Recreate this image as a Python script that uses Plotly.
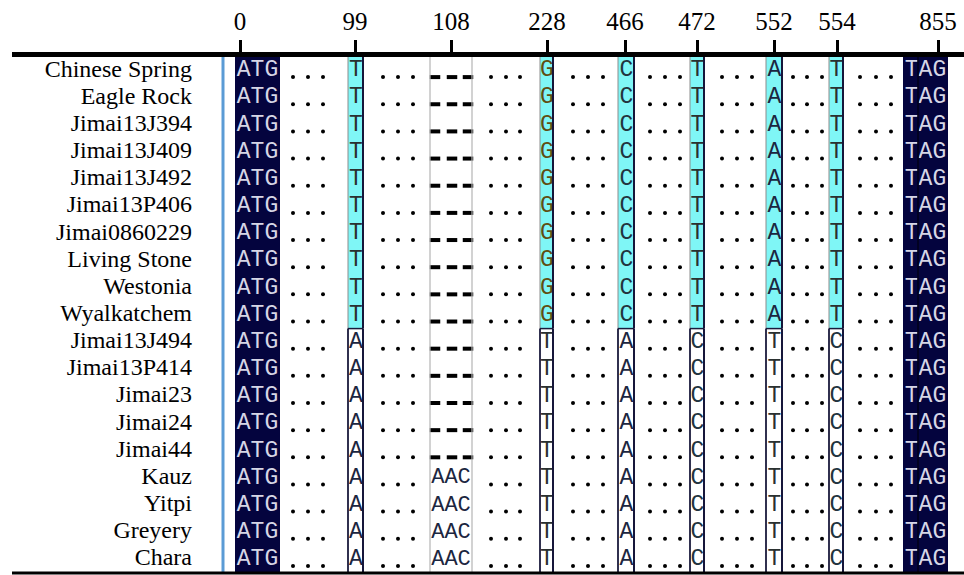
import plotly.graph_objects as go

# ---------------- data ----------------
cultivars = ["Chinese Spring", "Eagle Rock", "Jimai13J394", "Jimai13J409", "Jimai13J492",
             "Jimai13P406", "Jimai0860229", "Living Stone", "Westonia", "Wyalkatchem",
             "Jimai13J494", "Jimai13P414", "Jimai23", "Jimai24", "Jimai44",
             "Kauz", "Yitpi", "Greyery", "Chara"]
positions = [0, 99, 108, 228, 466, 472, 552, 554, 855]

start_codon = ["ATG", "ATG", "ATG", "ATG", "ATG", "ATG", "ATG", "ATG", "ATG", "ATG",
               "ATG", "ATG", "ATG", "ATG", "ATG", "ATG", "ATG", "ATG", "ATG"]
snp_99 = list("TTTTTTTTTTAAAAAAAAA")
indel_108 = ["---", "---", "---", "---", "---", "---", "---", "---", "---", "---",
             "---", "---", "---", "---", "---", "AAC", "AAC", "AAC", "AAC"]
snp_228 = list("GGGGGGGGGGTTTTTTTTT")
snp_466 = list("CCCCCCCCCCAAAAAAAAA")
snp_472 = list("TTTTTTTTTTCCCCCCCCC")
snp_552 = list("AAAAAAAAAATTTTTTTTT")
snp_554 = list("TTTTTTTTTTCCCCCCCCC")
stop_codon = ["TAG", "TAG", "TAG", "TAG", "TAG", "TAG", "TAG", "TAG", "TAG", "TAG",
              "TAG", "TAG", "TAG", "TAG", "TAG", "TAG", "TAG", "TAG", "TAG"]

# ---------------- layout / style constants ----------------
W, H = 964, 575
NAVY = "#04043e"
CYAN = "#7ff6f6"
SERIF = "Liberation Serif, Times New Roman, serif"
MONO = "Liberation Mono, Courier New, monospace"
CELL_FONT = 23

tick_x = [240, 355, 451, 547, 625, 697, 774, 837, 938]
codon_span = {"start": (235, 280), "stop": (903, 948)}
snp_spans = [(348, 363), (540, 553), (618, 634), (690, 704), (766, 782), (829, 843)]
snp_cols = [snp_99, snp_228, snp_466, snp_472, snp_552, snp_554]
indel_span = (430, 472)
dash_x = [435, 452, 468]
dot_groups = [[293, 308, 323], [383, 398, 413], [491, 506, 520], [573, 588, 603],
              [650, 665, 680], [722, 737, 752], [793, 807, 822], [860, 876, 891]]
letter_color = {"A": "#1c2640", "T": "#2a3030", "G": "#5f4d12", "C": "#22343e"}

n = len(cultivars)
idx = list(range(n))

fig = go.Figure()
shapes = []

# codon blocks (navy)
for key, seq in (("start", start_codon), ("stop", stop_codon)):
    x0, x1 = codon_span[key]
    fig.add_trace(go.Bar(orientation="h", y=idx, base=[x0] * n, x=[x1 - x0] * n,
                         width=1.0, marker=dict(color=NAVY, line=dict(width=0)),
                         hoverinfo="skip", showlegend=False))
    fig.add_trace(go.Scatter(x=[(x0 + x1) / 2] * n, y=idx, mode="text", text=seq,
                             textfont=dict(family=MONO, size=CELL_FONT, color="#d6d6e6"),
                             hoverinfo="skip", showlegend=False))
# divider inside stop codon block
shapes.append(dict(type="line", xref="x", yref="paper", x0=918, x1=918, y0=0, y1=1,
                   line=dict(color="#000018", width=1.5)))

# SNP columns
for (x0, x1), col in zip(snp_spans, snp_cols):
    ref = col[0]
    fills = [CYAN if b == ref else "white" for b in col]
    fig.add_trace(go.Bar(orientation="h", y=idx, base=[x0] * n, x=[x1 - x0] * n,
                         width=1.0, marker=dict(color=fills, line=dict(width=0)),
                         hoverinfo="skip", showlegend=False))
    fig.add_trace(go.Scatter(x=[(x0 + x1) / 2 + 0.5] * n, y=idx, mode="text", text=col,
                             textfont=dict(family=MONO, size=CELL_FONT,
                                           color=[letter_color[b] for b in col]),
                             hoverinfo="skip", showlegend=False))
    # borders for each run of matching / non-matching rows
    start = 0
    for i in range(1, n + 1):
        if i == n or (col[i] == ref) != (col[start] == ref):
            match = col[start] == ref
            ya, yb = start - 0.5, i - 0.5
            shapes.append(dict(type="line", xref="x", yref="y", x0=x0, x1=x0, y0=ya, y1=yb,
                               line=dict(color="#8c8c8c" if match else "#1a1a3c",
                                         width=1 if match else 1.8)))
            shapes.append(dict(type="line", xref="x", yref="y", x0=x1, x1=x1, y0=ya, y1=yb,
                               line=dict(color="#16163a", width=2)))
            if not match:
                shapes.append(dict(type="line", xref="x", yref="y", x0=x0, x1=x1,
                                   y0=ya, y1=ya, line=dict(color="#1a1a3c", width=1.5)))
            start = i

# indel column at 108
shapes.append(dict(type="line", xref="x", yref="paper", x0=indel_span[0], x1=indel_span[0],
                   y0=0, y1=1, line=dict(color="#b4b4b4", width=1.2)))
shapes.append(dict(type="line", xref="x", yref="paper", x0=indel_span[1], x1=indel_span[1],
                   y0=0, y1=1, line=dict(color="#b4b4b4", width=1.2)))
gap_rows = [i for i, s in enumerate(indel_108) if set(s) == {"-"}]
ins_rows = [i for i, s in enumerate(indel_108) if set(s) != {"-"}]
dx, dy = [], []
for i in gap_rows:
    for xx in dash_x:
        dx.append(xx)
        dy.append(i + 0.24)
fig.add_trace(go.Scatter(x=dx, y=dy, mode="markers",
                         marker=dict(symbol="line-ew", size=7.5,
                                     line=dict(color="black", width=4)),
                         hoverinfo="skip", showlegend=False))
fig.add_trace(go.Scatter(x=[(indel_span[0] + indel_span[1]) / 2] * len(ins_rows), y=ins_rows,
                         mode="text", text=[indel_108[i] for i in ins_rows],
                         textfont=dict(family=MONO, size=CELL_FONT - 1, color="#1c2640"),
                         hoverinfo="skip", showlegend=False))

# elided-sequence dots
px, py = [], []
for g in dot_groups:
    for xx in g:
        for i in idx:
            px.append(xx)
            py.append(i + 0.24)
fig.add_trace(go.Scatter(x=px, y=py, mode="markers",
                         marker=dict(symbol="circle", size=4, color="black"),
                         hoverinfo="skip", showlegend=False))

# cultivar labels
fig.add_trace(go.Scatter(x=[192] * n, y=idx, mode="text", text=cultivars,
                         textposition="middle left",
                         textfont=dict(family=SERIF, size=24, color="black"),
                         hoverinfo="skip", showlegend=False))

# left blue rule and bottom rule
shapes.append(dict(type="line", xref="x", yref="paper", x0=223, x1=223, y0=0, y1=1,
                   line=dict(color="#5b9bd5", width=3)))
shapes.append(dict(type="line", xref="paper", yref="paper", x0=0, x1=1, y0=0, y1=0,
                   line=dict(color="black", width=3)))

fig.update_layout(
    width=W, height=H,
    margin=dict(l=12, r=0, t=57, b=2),
    paper_bgcolor="white", plot_bgcolor="white",
    barmode="overlay", bargap=0,
    shapes=shapes,
    showlegend=False,
    xaxis=dict(range=[12, 964], side="top", showgrid=False, zeroline=False,
               showline=True, linecolor="black", linewidth=5,
               ticks="outside", ticklen=12, tickwidth=3, tickcolor="black",
               tickvals=tick_x, ticktext=[str(p) for p in positions],
               tickfont=dict(family=SERIF, size=25, color="black"),
               fixedrange=True),
    yaxis=dict(range=[n - 0.5, -0.5], visible=False, fixedrange=True),
)

fig.write_html("out.html", config={"displayModeBar": False},
               post_script="document.body.style.margin='0px';document.body.style.overflow='hidden';")
